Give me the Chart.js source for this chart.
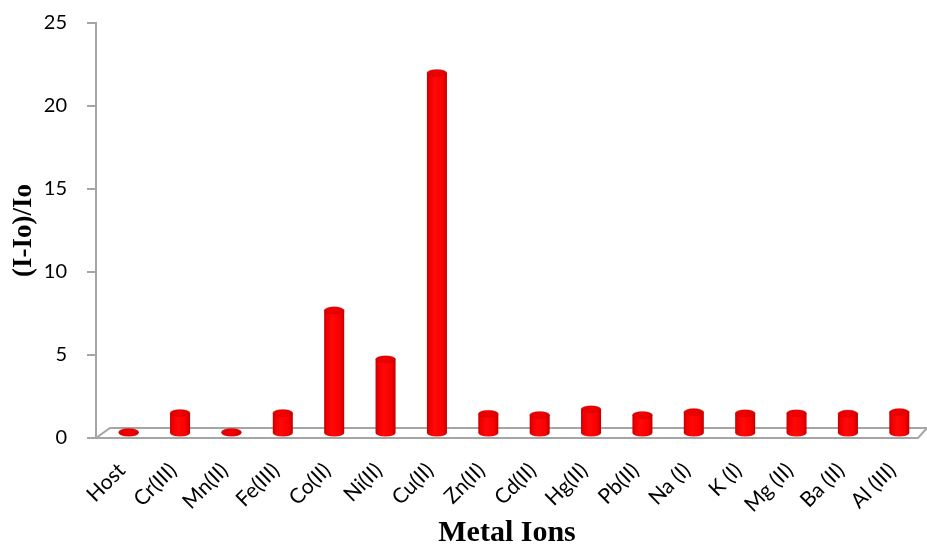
<!DOCTYPE html>
<html>
<head>
<meta charset="utf-8">
<script src="https://cdn.jsdelivr.net/npm/chart.js@4.4.1/dist/chart.umd.min.js"></script>
<style>
  html, body { margin: 0; padding: 0; background: #ffffff; }
  #wrap { width: 927px; height: 548px; position: relative; }
</style>
</head>
<body>
<div id="wrap"><canvas id="chart" width="927" height="548"></canvas></div>
<script>
// Fluorescence response of the host towards metal ions
const categories = ['Host', 'Cr(III)', 'Mn(II)', 'Fe(III)', 'Co(II)', 'Ni(II)', 'Cu(II)', 'Zn(II)',
                    'Cd(II)', 'Hg(II)', 'Pb(II)', 'Na (I)', 'K (I)', 'Mg (II)', 'Ba (II)', 'Al (III)'];
const responseValues = [0.1, 1.72, 0.3, 1.72, 7.9, 4.95, 22.2, 1.67, 1.6, 1.94, 1.6, 1.77, 1.7, 1.7, 1.68, 1.77];
const yTickValues = [0, 5, 10, 15, 20, 25];

const AXIS_GRAY = '#a5a5a5';
const DEPTH_X = 14;   // floor depth offset (left edge)
const DEPTH_Y = 10;   // floor depth offset (vertical)
const BAR_SHIFT = 7;  // columns stand half-way into the floor depth
const RY = 3.5;       // ellipse half-height of the cylinder caps

// Floor of the 3-D plot area, drawn behind the columns
const floorPlugin = {
  id: 'floor',
  beforeDatasetsDraw(chart) {
    const { ctx, chartArea } = chart;
    const y0 = chart.scales.y.getPixelForValue(0);
    const left = chartArea.left, right = chartArea.right;
    ctx.save();
    ctx.strokeStyle = AXIS_GRAY;
    ctx.lineWidth = 2;
    ctx.beginPath();
    ctx.moveTo(left, y0);
    ctx.lineTo(left + DEPTH_X, y0 - DEPTH_Y);
    ctx.lineTo(right + 9, y0 - DEPTH_Y);
    ctx.lineTo(right, y0);
    ctx.closePath();
    ctx.stroke();
    ctx.restore();
  }
};

// Cylinder shaped columns built on the bar elements' geometry
const cylinderPlugin = {
  id: 'cylinders',
  afterDatasetsDraw(chart) {
    const { ctx } = chart;
    const meta = chart.getDatasetMeta(0);
    ctx.save();
    meta.data.forEach((el) => {
      const cx = el.x + BAR_SHIFT;
      const rx = el.width / 2;
      const bottomC = el.base - RY - 0.5;
      const topC = Math.min(el.y + RY, bottomC - 1);

      const body = ctx.createLinearGradient(cx - rx, 0, cx + rx, 0);
      body.addColorStop(0, '#c00000');
      body.addColorStop(0.12, '#ee0000');
      body.addColorStop(0.4, '#ff0808');
      body.addColorStop(0.78, '#fa0000');
      body.addColorStop(1, '#c00000');

      // body + bottom cap
      ctx.fillStyle = body;
      ctx.beginPath();
      ctx.moveTo(cx - rx, topC);
      ctx.lineTo(cx - rx, bottomC);
      ctx.ellipse(cx, bottomC, rx, RY, 0, Math.PI, 0, true);
      ctx.lineTo(cx + rx, topC);
      ctx.closePath();
      ctx.fill();

      // top cap
      const cap = ctx.createLinearGradient(cx - rx, topC - RY, cx + rx, topC + RY);
      cap.addColorStop(0, '#e00000');
      cap.addColorStop(0.5, '#f20000');
      cap.addColorStop(1, '#d40000');
      ctx.fillStyle = cap;
      ctx.beginPath();
      ctx.ellipse(cx, topC, rx, RY, 0, 0, Math.PI * 2);
      ctx.fill();
      ctx.strokeStyle = 'rgba(170,0,0,0.25)';
      ctx.lineWidth = 1;
      ctx.stroke();
    });
    ctx.restore();
  }
};

new Chart(document.getElementById('chart'), {
  type: 'bar',
  data: {
    labels: categories,
    datasets: [{
      data: responseValues,
      backgroundColor: 'rgba(0,0,0,0)',
      borderWidth: 0,
      categoryPercentage: 1,
      barPercentage: 0.39
    }]
  },
  options: {
    responsive: false,
    animation: false,
    events: [],
    layout: { padding: { top: 23, right: 9, left: 0, bottom: 0 } },
    plugins: {
      legend: { display: false },
      tooltip: { enabled: false }
    },
    scales: {
      x: {
        grid: { display: false },
        border: { display: false },
        ticks: {
          autoSkip: false,
          minRotation: 45,
          maxRotation: 45,
          padding: 12,
          color: '#000000',
          font: { family: 'Lato', size: 21 }
        },
        title: {
          display: true,
          text: 'Metal Ions',
          color: '#000000',
          padding: { top: 0, bottom: 0 },
          font: { family: 'Liberation Serif', size: 30, weight: 'bold', lineHeight: 1 }
        },
        afterFit(scale) { scale.height = 110; }
      },
      y: {
        min: 0,
        max: 25,
        afterBuildTicks(scale) { scale.ticks = yTickValues.map(v => ({ value: v })); },
        grid: {
          drawOnChartArea: false,
          drawTicks: true,
          tickLength: 9,
          color: AXIS_GRAY,
          lineWidth: 2
        },
        border: { display: true, color: AXIS_GRAY, width: 2 },
        ticks: {
          padding: 20,
          color: '#000000',
          font: { family: 'Lato', size: 20 }
        },
        title: {
          display: true,
          text: '(I-Io)/Io',
          color: '#000000',
          padding: { top: 11, bottom: 0 },
          font: { family: 'Liberation Serif', size: 27, weight: 'bold', lineHeight: 1 }
        },
        afterFit(scale) {
          scale.width = 96;
          scale.paddingTop = 0;
          scale.paddingBottom = 0;
        }
      }
    }
  },
  plugins: [floorPlugin, cylinderPlugin]
});
</script>
</body>
</html>
